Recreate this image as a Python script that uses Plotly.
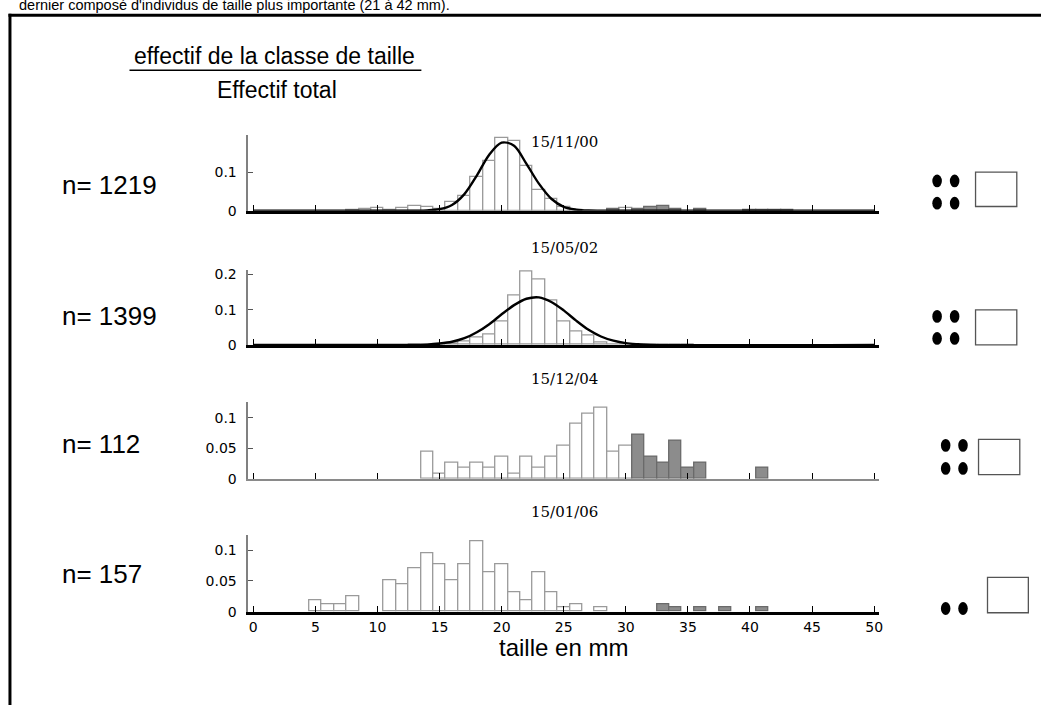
import plotly.graph_objects as go

W, H = 1045, 713

# ---------------- data ----------------
dates = ["15/11/00", "15/05/02", "15/12/04", "15/01/06"]
n_labels = ["n= 1219", "n= 1399", "n= 112", "n= 157"]
x_ticks = [0, 5, 10, 15, 20, 25, 30, 35, 40, 45, 50]

# panel 1 (15/11/00) proportions
p1_white_x = [8, 9, 10, 11, 12, 13, 14, 15, 16, 17, 18, 19, 20, 21, 22, 23, 24, 25, 26, 30]
p1_white_y = [0.003, 0.005, 0.006, 0.003, 0.006, 0.012, 0.010, 0.005, 0.023, 0.038, 0.087, 0.128,
              0.187, 0.180, 0.116, 0.053, 0.030, 0.011, 0.002, 0.0085]
p1_grey_x = [29, 31, 32, 33, 34, 36, 40, 41, 42, 43]
p1_grey_y = [0.004, 0.004, 0.009, 0.012, 0.004, 0.004, 0.001, 0.001, 0.001, 0.001]
c1_x = [0, 12, 13, 14, 15, 16, 17, 18, 19, 20, 21, 22, 23, 24, 25, 26, 27, 28, 50]
c1_y = [0, 0, 0.0003, 0.001, 0.004, 0.015, 0.043, 0.091, 0.145, 0.176, 0.168, 0.121, 0.070,
        0.031, 0.010, 0.003, 0.0005, 0, 0]

# panel 2 (15/05/02) proportions
p2_white_x = [13, 14, 15, 16, 17, 18, 19, 20, 21, 22, 23, 24, 25, 26, 27, 28, 29, 30, 31, 32, 33, 34, 35]
p2_white_y = [0.001, 0.002, 0.002, 0.004, 0.010, 0.020, 0.030, 0.067, 0.139, 0.207, 0.186, 0.126,
              0.067, 0.039, 0.027, 0.006, 0.002, 0.001, 0.001, 0.001, 0.001, 0.001, 0.001]
c2_x = [0, 13, 14, 15, 16, 17, 18, 19, 20, 21, 22, 23, 24, 25, 26, 27, 28, 29, 30, 31, 32, 50]
c2_y = [0, 0, 0.001, 0.004, 0.009, 0.019, 0.036, 0.059, 0.087, 0.113, 0.131, 0.135, 0.122, 0.098,
        0.069, 0.043, 0.024, 0.012, 0.005, 0.002, 0, 0]

# panel 3 (15/12/04) counts, n = 112
n3 = 112
p3_white_x = [14, 15, 16, 17, 18, 19, 20, 21, 22, 23, 24, 25, 26, 27, 28, 29, 30]
p3_white_c = [5, 1, 3, 2, 3, 2, 4, 1, 4, 2, 4, 6, 10, 12, 13, 5, 6]
p3_grey_x = [31, 32, 33, 34, 35, 36, 41]
p3_grey_c = [8, 4, 3, 7, 2, 3, 2]

# panel 4 (15/01/06) counts, n = 157
n4 = 157
p4_white_x = [5, 6, 7, 8, 11, 12, 13, 14, 15, 16, 17, 18, 19, 20, 21, 22, 23, 24, 25, 26, 28]
p4_white_c = [3, 2, 2, 4, 8, 7, 11, 15, 12, 8, 12, 18, 10, 12, 5, 3, 10, 5, 1, 2, 1]
p4_grey_x = [33, 34, 36, 38, 41]
p4_grey_c = [2, 1, 1, 1, 1]

# ---------------- helpers ----------------
def px(x):
    return x / W

def py(y):
    return 1 - y / H

WHITE_FILL, WHITE_LINE = "white", "#9a9a9a"
GREY_FILL, GREY_LINE = "#8c8c8c", "#6a6a6a"

fig = go.Figure()

def bars(x, y, ax, grey=False):
    fig.add_trace(go.Bar(
        x=x, y=y, width=1.0, xaxis=ax[0], yaxis=ax[1],
        marker=dict(color=GREY_FILL if grey else WHITE_FILL,
                    line=dict(color=GREY_LINE if grey else WHITE_LINE, width=1.3)),
        showlegend=False, hoverinfo="skip"))

def curve(x, y, ax):
    fig.add_trace(go.Scatter(
        x=x, y=y, mode="lines", xaxis=ax[0], yaxis=ax[1],
        line=dict(color="black", width=2.4, shape="spline", smoothing=0.9),
        showlegend=False, hoverinfo="skip"))

axes = [("x", "y"), ("x2", "y2"), ("x3", "y3"), ("x4", "y4")]

bars(p1_white_x, p1_white_y, axes[0])
bars(p1_grey_x, p1_grey_y, axes[0], grey=True)
curve(c1_x, c1_y, axes[0])

bars(p2_white_x, p2_white_y, axes[1])
curve(c2_x, c2_y, axes[1])

bars(p3_white_x, [c / n3 for c in p3_white_c], axes[2])
bars(p3_grey_x, [c / n3 for c in p3_grey_c], axes[2], grey=True)

bars(p4_white_x, [c / n4 for c in p4_white_c], axes[3])
bars(p4_grey_x, [c / n4 for c in p4_grey_c], axes[3], grey=True)

# panel geometry (pixels)
panels = [
    (211.0, 134.0, 0.196, [0, 0.1], ["0", "0.1"], ("black", 2.5)),
    (347.3, 270.7, 0.214, [0, 0.1, 0.2], ["0", "0.1", "0.2"], ("black", 2.5)),
    (483.3, 405.0, 0.126, [0, 0.05, 0.1], ["0", "0.05", "0.1"], ("#8a8a8a", 1.5)),
    (618.3, 540.7, 0.124, [0, 0.05, 0.1], ["0", "0.05", "0.1"], ("black", 2.5)),
]
x_dom = [px(249.3), px(882.0)]
tickfont = dict(family="DejaVu Sans", size=14, color="black")

layout = dict(
    width=W, height=H, margin=dict(l=0, r=0, t=0, b=0),
    paper_bgcolor="white", plot_bgcolor="rgba(0,0,0,0)",
    barmode="overlay", bargap=0, showlegend=False,
)
for i, (y0, ytop, ymax, yt, ytl, (bl_col, bl_w)) in enumerate(panels):
    sx = "" if i == 0 else str(i + 1)
    layout["xaxis" + sx] = dict(
        domain=x_dom, range=[-0.4, 50.36], anchor="y" + sx,
        showgrid=False, zeroline=False, showline=True, linecolor=bl_col, linewidth=bl_w,
        ticks="inside", ticklen=6, tickwidth=1.2, tickcolor="black",
        tickvals=x_ticks, ticktext=[str(v) for v in x_ticks],
        showticklabels=(i == 3), tickfont=tickfont, ticklabelstandoff=1,
        fixedrange=True)
    layout["yaxis" + sx] = dict(
        domain=[py(y0), py(ytop)], range=[0, ymax], anchor="x" + sx,
        showgrid=False, zeroline=False, showline=True, linecolor="#808080", linewidth=1.5,
        ticks="inside", ticklen=5, tickwidth=1.2, tickcolor="#555555",
        tickvals=yt, ticktext=ytl, tickfont=tickfont, ticklabelstandoff=7,
        fixedrange=True)
fig.update_layout(**layout)

ann = []
sans = "Liberation Sans, Arial, sans-serif"
# top cut-off sentence
ann.append(dict(text="dernier composé d'individus de taille plus importante (21 à 42 mm).",
                x=px(17), y=py(2), xanchor="left", yanchor="middle",
                font=dict(family=sans, size=14.5, color="black")))
ann.append(dict(text="effectif de la classe de taille", x=px(276), y=py(54),
                xanchor="center", yanchor="middle",
                font=dict(family=sans, size=23, color="black")))
ann.append(dict(text="Effectif total", x=px(278), y=py(88), xanchor="center", yanchor="middle",
                font=dict(family=sans, size=23, color="black")))
date_y = [141, 249, 382, 517]
n_y = [185, 318, 448, 580]
for d, yy in zip(dates, date_y):
    ann.append(dict(text=d, x=px(567), y=py(yy), xanchor="center", yanchor="middle",
                    font=dict(family="DejaVu Serif", size=15, color="black")))
for t, yy in zip(n_labels, n_y):
    ann.append(dict(text=t, x=px(60), y=py(yy), xanchor="left", yanchor="middle",
                    font=dict(family=sans, size=26, color="black")))
ann.append(dict(text="taille en mm", x=px(566), y=py(655), xanchor="center", yanchor="middle",
                font=dict(family=sans, size=24, color="black")))
for a in ann:
    a.update(xref="paper", yref="paper", showarrow=False)
fig.update_layout(annotations=ann)

shapes = []
# frame
shapes.append(dict(type="line", x0=px(10), x1=px(10), y0=py(11), y1=py(713),
                   line=dict(color="black", width=3)))
shapes.append(dict(type="line", x0=px(8.5), x1=px(1045), y0=py(12.5), y1=py(12.5),
                   line=dict(color="black", width=3)))
# underline
shapes.append(dict(type="line", x0=px(130), x1=px(423), y0=py(68.3), y1=py(68.3),
                   line=dict(color="black", width=1.5)))
# right-hand symbols
dot_sets = [
    [(940.7, 180.7), (958.3, 180.7), (940.7, 203.3), (958.3, 203.3)],
    [(940.7, 318.3), (958.3, 318.3), (940.7, 340.7), (958.3, 340.7)],
    [(949.3, 449.3), (966.7, 449.3), (949.3, 472.7), (966.7, 472.7)],
    [(949.3, 615.0), (966.7, 615.0)],
]
rects = [(979.3, 171.7, 1020.7, 206.7), (979.3, 311.7, 1020.7, 347.3),
         (982.3, 443.3, 1023.7, 479.0), (991.3, 583.3, 1032.3, 619.3)]
for ds in dot_sets:
    for (cx, cy) in ds:
        shapes.append(dict(type="circle", x0=px(cx - 4.8), x1=px(cx + 4.8),
                           y0=py(cy + 6.5), y1=py(cy - 6.5),
                           fillcolor="black", line=dict(width=0)))
for (x0, y0, x1, y1) in rects:
    shapes.append(dict(type="rect", x0=px(x0), x1=px(x1), y0=py(y1), y1=py(y0),
                       fillcolor="white", line=dict(color="#555555", width=1.3)))
for s in shapes:
    s.update(xref="paper", yref="paper")
fig.update_layout(shapes=shapes)

fig.write_html("out.html")
